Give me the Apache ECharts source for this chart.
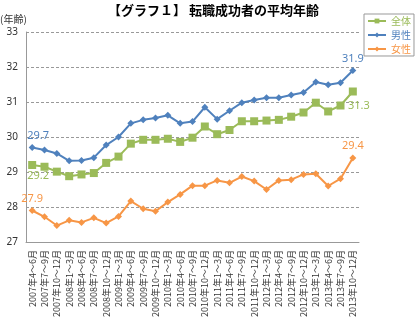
<!DOCTYPE html>
<html><head><meta charset="utf-8">
<script src="https://cdn.jsdelivr.net/npm/echarts@6/dist/echarts.min.js"></script>
<style>html,body{margin:0;padding:0;background:#fff}#c{width:420px;height:327px}</style>
</head><body><div id="c"></div>
<script>
const categories = ["2007年4～6月","2007年7～9月","2007年10～12月","2008年1～3月","2008年4～6月","2008年7～9月","2008年10～12月","2009年1～3月","2009年4～6月","2009年7～9月","2009年10～12月","2010年1～3月","2010年4～6月","2010年7～9月","2010年10～12月","2011年1～3月","2011年4～6月","2011年7～9月","2011年10～12月","2012年1～3月","2012年4～6月","2012年7～9月","2012年10～12月","2013年1～3月","2013年4～6月","2013年7～9月","2013年10～12月"];
const allValues = [29.2,29.15,29.01,28.88,28.93,28.97,29.26,29.44,29.81,29.92,29.92,29.95,29.86,29.98,30.3,30.08,30.2,30.45,30.45,30.47,30.49,30.58,30.7,30.98,30.73,30.9,31.3];
const maleValues = [29.7,29.63,29.53,29.32,29.33,29.41,29.77,30.0,30.39,30.49,30.54,30.62,30.39,30.44,30.85,30.51,30.75,30.98,31.06,31.12,31.12,31.2,31.27,31.57,31.49,31.55,31.9];
const femaleValues = [27.9,27.72,27.47,27.62,27.56,27.69,27.54,27.73,28.17,27.95,27.88,28.14,28.36,28.61,28.61,28.76,28.69,28.87,28.74,28.5,28.76,28.78,28.93,28.95,28.6,28.81,29.4];
const seriesNames = ["全体","男性","女性"];
const colors = ["#9BBB59","#4F81BD","#F79646"];
const yTicks = [27,28,29,30,31,32,33];

function mkLabels(arr, color, posFirst, posLast, offFirst, offLast){
  return arr.map((v,i)=>{
    if(i===0) return {value:v,label:{show:true,position:posFirst,offset:offFirst,color:color,fontSize:11,fontFamily:'Noto Sans',formatter:p=>p.value.toFixed(1)}};
    if(i===arr.length-1) return {value:v,label:{show:true,position:posLast,offset:offLast,color:color,fontSize:11,fontFamily:'Noto Sans',formatter:p=>p.value.toFixed(1)}};
    return v;
  });
}

const chart = echarts.init(document.getElementById('c'));
chart.setOption({
  animation:false,
  title:{text:'【グラフ１】 転職成功者の平均年齢',left:103,top:-1,textStyle:{fontSize:13,fontWeight:'bold',color:'#000',fontFamily:'Noto Sans CJK JP'}},
  graphic:[{type:'text',left:0,top:14,style:{text:'(年齢)',fontSize:10,fill:'#333',fontFamily:'Noto Sans CJK JP'}}],
  legend:{orient:'vertical',left:364,top:14,itemWidth:18,itemHeight:6,itemGap:4,padding:[2,3,2,3],borderColor:'#999',borderWidth:1,
    data:seriesNames.map((n,i)=>({name:n,textStyle:{color:colors[i],fontSize:10,fontFamily:'Noto Sans CJK JP'}})),
    textStyle:{fontSize:10}},
  grid:{left:26,right:61,top:32,bottom:85},
  xAxis:{type:'category',data:categories,boundaryGap:true,
    axisLine:{lineStyle:{color:'#999',width:1}},axisTick:{show:false},
    axisLabel:{rotate:90,interval:0,fontSize:9,color:'#333',fontFamily:'Noto Sans CJK JP',margin:8}},
  yAxis:{type:'value',min:yTicks[0],max:yTicks[yTicks.length-1],interval:1,
    axisLine:{show:true,lineStyle:{color:'#999'}},axisTick:{show:false},
    axisLabel:{fontSize:10,color:'#333',fontFamily:'Noto Sans',margin:8},
    splitLine:{lineStyle:{type:[3,2],color:'#999'}}},
  series:[
    {name:seriesNames[0],type:'line',data:mkLabels(allValues,colors[0],'bottom','bottom',[6,-4],[6,0]),color:colors[0],symbol:'rect',symbolSize:8,lineStyle:{width:2},itemStyle:{color:colors[0]}},
    {name:seriesNames[1],type:'line',data:mkLabels(maleValues,colors[1],'top','top',[6,2],[0,2]),color:colors[1],symbol:'diamond',symbolSize:7,lineStyle:{width:2},itemStyle:{color:colors[1]}},
    {name:seriesNames[2],type:'line',data:mkLabels(femaleValues,colors[2],'top','top',[0,2],[0,2]),color:colors[2],symbol:'diamond',symbolSize:7,lineStyle:{width:2},itemStyle:{color:colors[2]}}
  ]
});
</script></body></html>
